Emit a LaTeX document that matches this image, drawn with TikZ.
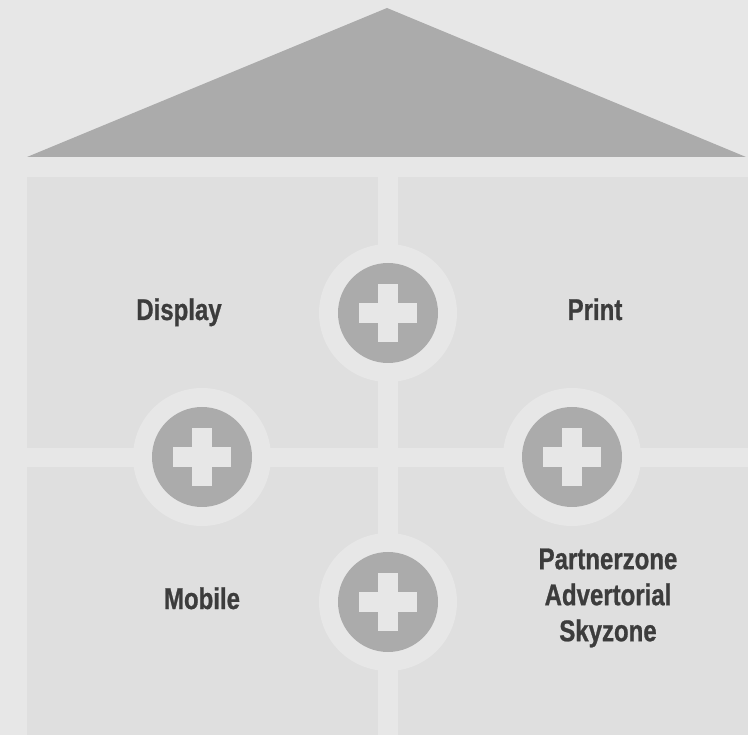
\documentclass[tikz,border=0pt]{standalone}
\usepackage{fontspec}
\setmainfont[FakeStretch=0.8, BoldFeatures={FakeBold=0.8}]{Liberation Sans}
\definecolor{bgc}{HTML}{E7E7E7}
\definecolor{panelc}{HTML}{DFDFDF}
\definecolor{darkc}{HTML}{ABABAB}
\definecolor{textc}{HTML}{3C3C3C}
\tikzset{
  panel/.style={fill=panelc, draw=none},
  halo/.style={circle, fill=bgc, draw=none, minimum size=138pt, inner sep=0pt},
  disc/.style={circle, fill=darkc, draw=none, minimum size=100pt, inner sep=0pt},
  plusbar/.style={fill=bgc, draw=none},
  label/.style={text=textc, font=\fontsize{30}{36}\selectfont\bfseries, inner sep=0pt, align=center}
}
\newcommand{\plusmark}[2]{%
  \fill[plusbar] (#1-29,#2-10) rectangle (#1+29,#2+10);
  \fill[plusbar] (#1-10,#2-29) rectangle (#1+10,#2+29);
}
\begin{document}
\begin{tikzpicture}[x=1pt,y=-1pt]
\fill[bgc] (0,0) rectangle (748,735);
\useasboundingbox (0,0) rectangle (748,735);
% roof
\fill[darkc] (27,157) -- (387,8) -- (746,157) -- cycle;
% panels
\fill[panel] (27,177) rectangle (378,448);
\fill[panel] (398,177) rectangle (748,448);
\fill[panel] (27,467) rectangle (378,735);
\fill[panel] (398,467) rectangle (748,735);
% circles
\node[halo] (hTop) at (388,313) {};
\node[halo] (hLeft) at (202,457) {};
\node[halo] (hRight) at (572,457) {};
\node[halo] (hBot) at (388,602) {};
\node[disc] (cTop) at (hTop) {};
\node[disc] (cLeft) at (hLeft) {};
\node[disc] (cRight) at (hRight) {};
\node[disc] (cBot) at (hBot) {};
\plusmark{388}{313}
\plusmark{202}{457}
\plusmark{572}{457}
\plusmark{388}{602}
% labels
\node[label, anchor=base] (display) at (179,320) {Display};
\node[label, anchor=base] (print) at (595,320) {Print};
\node[label, anchor=base] (mobile) at (202,609) {Mobile};
\node[label, anchor=center] (partner) at (608,598) {Partnerzone\\Advertorial\\Skyzone};
\end{tikzpicture}
\end{document}
